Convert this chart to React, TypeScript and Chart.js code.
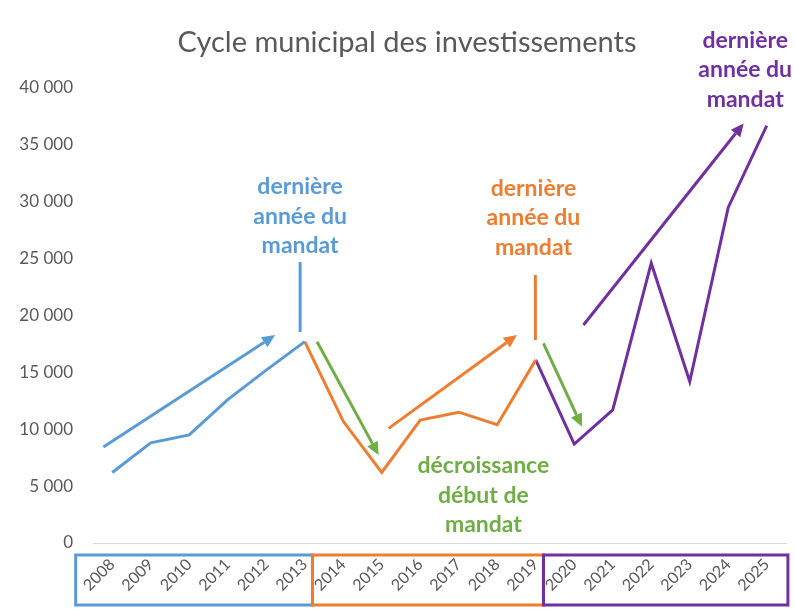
import React, { useEffect, useRef } from "react";
import { Chart, registerables } from "chart.js";

Chart.register(...registerables);

// ---- data ----
const years = [
  "2008", "2009", "2010", "2011", "2012", "2013",
  "2014", "2015", "2016", "2017", "2018", "2019",
  "2020", "2021", "2022", "2023", "2024", "2025",
];
const investments = [
  6200, 8800, 9500, 12600, 15200, 17700,
  10700, 6200, 10800, 11500, 10400, 16100,
  8700, 11700, 24600, 14200, 29500, 36700,
];
const yTicks = [0, 5000, 10000, 15000, 20000, 25000, 30000, 35000, 40000];
const title = "Cycle municipal des investissements";

// mandates: index ranges of the line segments and of the label boxes
const mandateFrom = [0, 5, 11];
const mandateTo = [5, 11, 17];
const mandateBoxFrom = [-0.95, 5.2, 11.2];
const mandateBoxTo = [5.2, 11.2, 17.55];

const BLUE = "#5B9BD5";
const ORANGE = "#ED7D31";
const PURPLE = "#7030A0";
const GREEN = "#70AD47";
const mandateColors = [BLUE, ORANGE, PURPLE];

// annotations in data coordinates (category index, value)
const trendArrows = [
  { color: BLUE, from: [-0.23, 8440], to: [4.23, 18280] },
  { color: GREEN, from: [5.32, 17690], to: [6.92, 7730] },
  { color: ORANGE, from: [7.18, 10080], to: [10.51, 18280] },
  { color: GREEN, from: [11.2, 17550], to: [12.2, 10220] },
  { color: PURPLE, from: [12.24, 19160], to: [16.4, 36890] },
];
const markerLines = [
  { color: BLUE, from: [4.88, 24700], to: [4.88, 18550] },
  { color: ORANGE, from: [10.99, 23560], to: [10.99, 17840] },
];
const lastYearText = ["dernière", "année du", "mandat"];
const decreaseText = ["décroissance", "début de", "mandat"];
const textNotes = [
  { color: BLUE, at: [4.88, 31290], lines: lastYearText },
  { color: ORANGE, at: [10.94, 31200], lines: lastYearText },
  { color: PURPLE, at: [16.44, 44210], lines: lastYearText },
  { color: GREEN, at: [9.64, 6770], lines: decreaseText },
];

const fmt = (v: number) => String(v).replace(/\B(?=(\d{3})+(?!\d))/g, " ");

const FONT = "Lato, 'Open Sans', sans-serif";

export default function App() {
  const ref = useRef<HTMLCanvasElement>(null);

  useEffect(() => {
    document.body.style.margin = "0";
    const canvas = ref.current;
    if (!canvas) return;

    const datasets = mandateFrom.map((from, k) => ({
      data: years.map((_, i) => (i >= from && i <= mandateTo[k] ? investments[i] : null)),
      borderColor: mandateColors[k],
      backgroundColor: mandateColors[k],
      borderWidth: 3,
      pointRadius: 0,
      tension: 0,
      spanGaps: false,
    }));

    const annotate = {
      id: "annotate",
      afterDatasetsDraw(chart: any) {
        const ctx = chart.ctx as CanvasRenderingContext2D;
        const xs = chart.scales.x;
        const ys = chart.scales.y;
        const step = xs.getPixelForValue(1) - xs.getPixelForValue(0);
        const px = (i: number) => xs.getPixelForValue(0) + i * step;
        const py = (v: number) => ys.getPixelForValue(v);
        ctx.save();

        // title
        ctx.fillStyle = "#595959";
        ctx.font = `29px ${FONT}`;
        ctx.textAlign = "center";
        ctx.textBaseline = "middle";
        ctx.fillText(title, 407, 43);

        // marker lines
        markerLines.forEach((m) => {
          ctx.strokeStyle = m.color;
          ctx.lineWidth = 3;
          ctx.beginPath();
          ctx.moveTo(px(m.from[0]), py(m.from[1]));
          ctx.lineTo(px(m.to[0]), py(m.to[1]));
          ctx.stroke();
        });

        // arrows
        trendArrows.forEach((a) => {
          const x1 = px(a.from[0]);
          const y1 = py(a.from[1]);
          const x2 = px(a.to[0]);
          const y2 = py(a.to[1]);
          const ang = Math.atan2(y2 - y1, x2 - x1);
          const hl = 13;
          const hw = 6;
          const bx = x2 - hl * Math.cos(ang);
          const by = y2 - hl * Math.sin(ang);
          ctx.strokeStyle = a.color;
          ctx.fillStyle = a.color;
          ctx.lineWidth = 3;
          ctx.lineCap = "butt";
          ctx.beginPath();
          ctx.moveTo(x1, y1);
          ctx.lineTo(bx, by);
          ctx.stroke();
          ctx.beginPath();
          ctx.moveTo(x2, y2);
          ctx.lineTo(bx + hw * Math.sin(ang), by - hw * Math.cos(ang));
          ctx.lineTo(bx - hw * Math.sin(ang), by + hw * Math.cos(ang));
          ctx.closePath();
          ctx.fill();
        });

        // text notes
        ctx.font = `bold 23px ${FONT}`;
        ctx.textAlign = "center";
        ctx.textBaseline = "middle";
        textNotes.forEach((t) => {
          ctx.fillStyle = t.color;
          const x = px(t.at[0]);
          const y = py(t.at[1]);
          t.lines.forEach((l, j) => ctx.fillText(l, x, y + j * 29.5));
        });

        // mandate boxes around the year labels
        mandateBoxFrom.forEach((f, k) => {
          ctx.strokeStyle = mandateColors[k];
          ctx.lineWidth = 3;
          const l = px(f);
          const r = px(mandateBoxTo[k]);
          ctx.strokeRect(l, 555, r - l, 50);
        });

        ctx.restore();
      },
    };

    const chart = new Chart(canvas, {
      type: "line",
      data: { labels: years, datasets },
      options: {
        responsive: false,
        animation: false,
        layout: { padding: { left: 0, right: 9, top: 88, bottom: 0 } },
        plugins: { legend: { display: false }, tooltip: { enabled: false }, title: { display: false } },
        scales: {
          x: {
            offset: true,
            grid: { display: false, drawTicks: false },
            border: { display: true, color: "#D9D9D9", width: 1 },
            ticks: {
              autoSkip: false,
              minRotation: 45,
              maxRotation: 45,
              padding: 12,
              labelOffset: 0,
              color: "#595959",
              font: { family: FONT, size: 16 },
            },
            afterFit: (s: any) => {
              s.height = 66;
            },
          },
          y: {
            min: 0,
            max: 40000,
            grid: { display: false, drawTicks: false },
            border: { display: false },
            afterBuildTicks: (s: any) => {
              s.ticks = yTicks.map((v) => ({ value: v }));
            },
            ticks: {
              padding: 20,
              color: "#595959",
              font: { family: FONT, size: 17 },
              callback: (v: any) => fmt(Number(v)),
            },
            afterFit: (s: any) => {
              s.width = 93;
            },
          },
        },
      },
      plugins: [annotate],
    });

    return () => chart.destroy();
  }, []);

  return (
    <div style={{ width: 795, height: 609, background: "#fff" }}>
      <canvas ref={ref} width={795} height={609} />
    </div>
  );
}
